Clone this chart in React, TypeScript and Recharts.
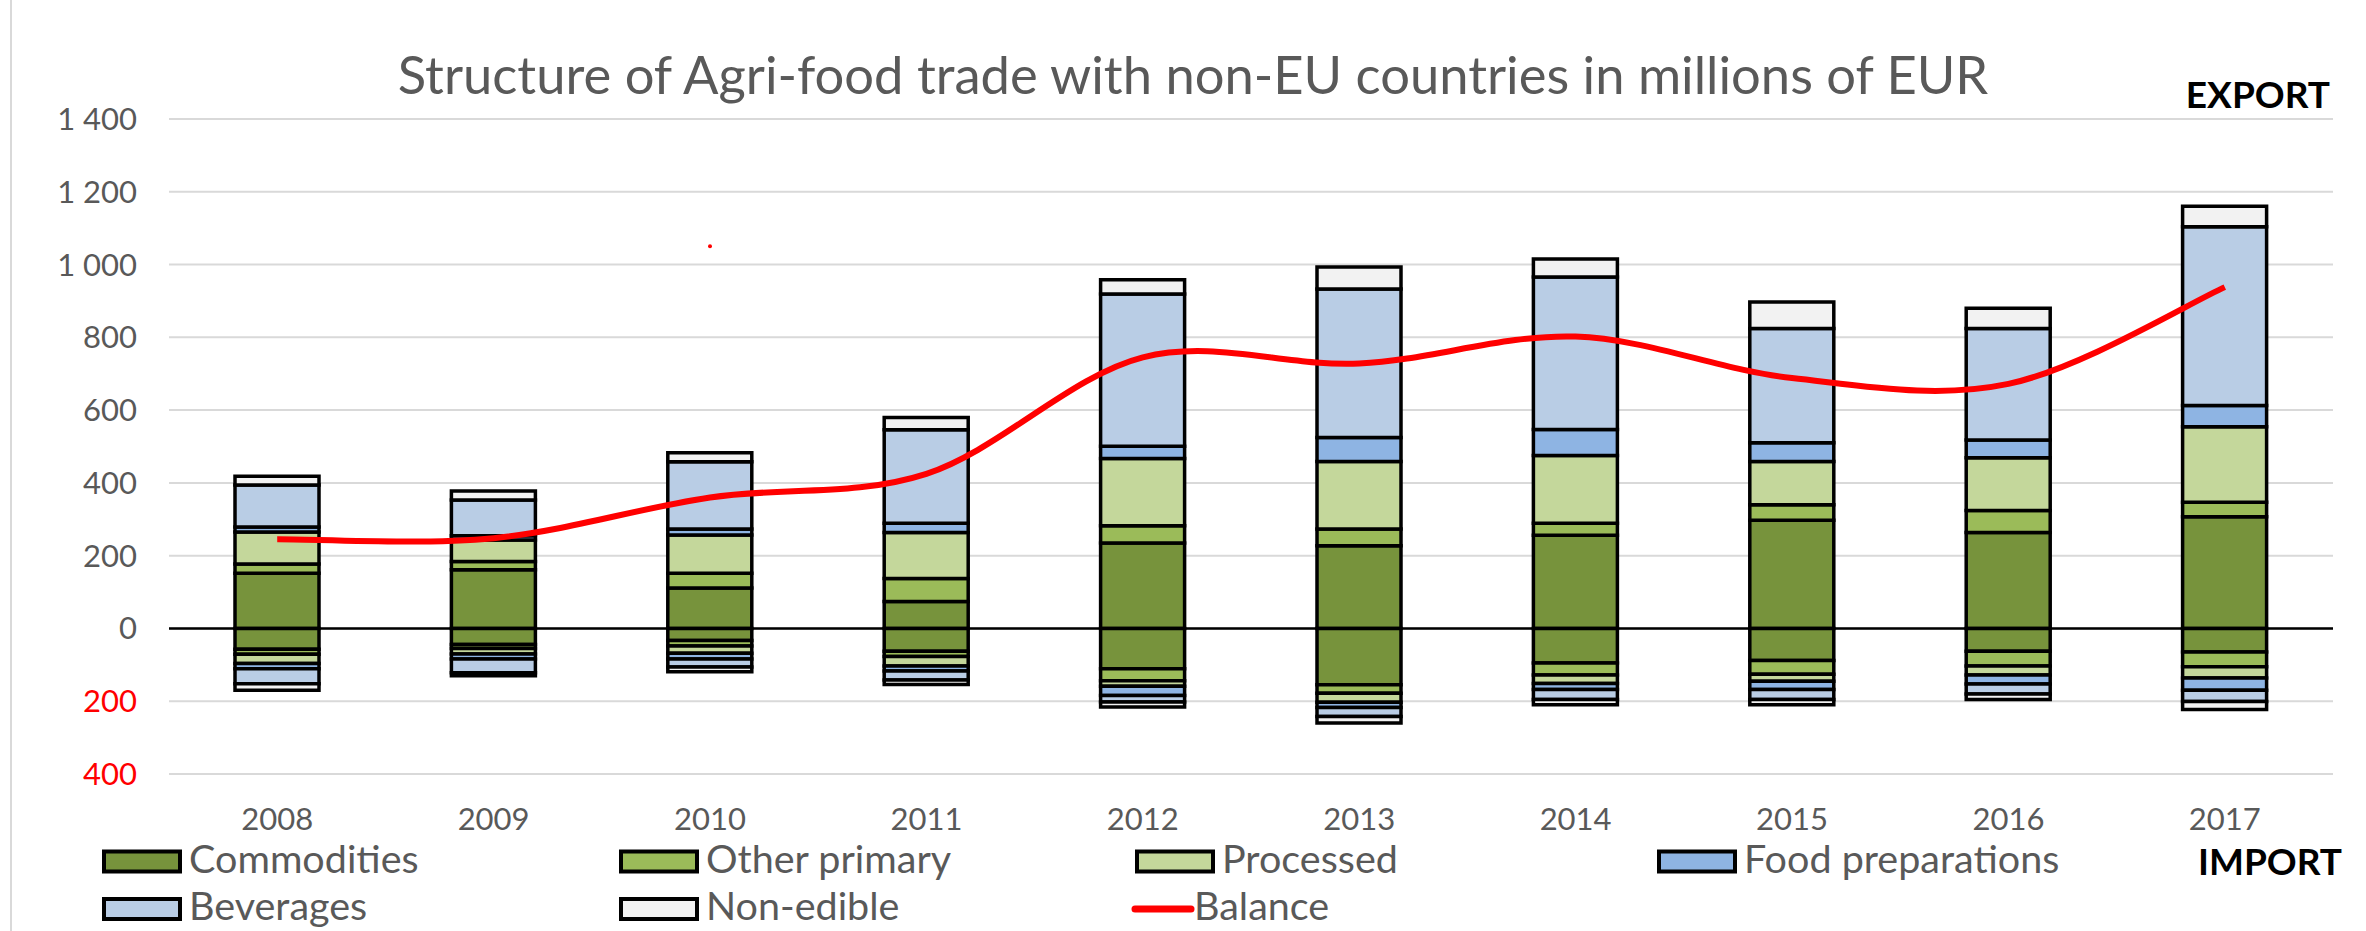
import React from 'react';
import {
  ComposedChart,
  Bar,
  Line,
  XAxis,
  YAxis,
  CartesianGrid,
  ReferenceLine,
  ReferenceDot,
  Legend,
} from 'recharts';

// ---------- data ----------
const years = ['2008', '2009', '2010', '2011', '2012', '2013', '2014', '2015', '2016', '2017'];

const seriesNames = ['Commodities', 'Other primary', 'Processed', 'Food preparations', 'Beverages', 'Non-edible'];
const seriesColors = ['#77933C', '#9BBB59', '#C4D79B', '#8EB4E3', '#B9CDE5', '#F2F2F2'];

// export (positive)
const commoditiesExp = [152, 161, 111, 74, 235, 227, 256, 297, 264, 307];
const otherPrimaryExp = [25, 23, 41, 63, 47, 46, 33, 43, 60, 40];
const processedExp = [88, 59, 105, 127, 185, 186, 186, 119, 145, 207];
const foodPrepExp = [14, 12, 16, 25, 34, 66, 72, 51, 49, 59];
const beveragesExp = [115, 98, 185, 257, 418, 408, 419, 314, 306, 491];
const nonEdibleExp = [24, 25, 25, 34, 39, 60, 49, 73, 56, 56];

// import (negative)
const commoditiesImp = [-57, -44, -33, -63, -111, -155, -95, -88, -63, -65];
const otherPrimaryImp = [-14, -11, -15, -14, -33, -23, -33, -38, -40, -40];
const processedImp = [-25, -15, -20, -26, -15, -25, -23, -19, -25, -31];
const foodPrepImp = [-15, -14, -16, -14, -25, -14, -17, -23, -25, -34];
const beveragesImp = [-41, -38, -22, -25, -18, -25, -27, -27, -27, -31];
const nonEdibleImp = [-18, -8, -13, -12, -14, -18, -15, -15, -15, -22];

const balance = [245, 248, 360, 425, 745, 728, 802, 688, 672, 938];

const yTicks = [-400, -200, 0, 200, 400, 600, 800, 1000, 1200, 1400];

const strayMark = { year: '2010', value: 1050 };

const expSeries = [commoditiesExp, otherPrimaryExp, processedExp, foodPrepExp, beveragesExp, nonEdibleExp];
const impSeries = [commoditiesImp, otherPrimaryImp, processedImp, foodPrepImp, beveragesImp, nonEdibleImp];

const data = years.map((year, i) => {
  const row: Record<string, any> = { year, balance: balance[i] };
  expSeries.forEach((s, k) => (row[`e${k}`] = s[i]));
  impSeries.forEach((s, k) => (row[`i${k}`] = s[i]));
  return row;
});

// ---------- styling ----------
const FONT = 'Lato, "Open Sans", sans-serif';
const GREY = '#595959';
const W = 2366;
const H = 931;

const fmt = (v: number) => String(Math.abs(v)).replace(/\B(?=(\d{3})+(?!\d))/g, ' ');

// Excel-like smoothed line (Catmull-Rom via cubic Bezier)
function excelCurve(context: any) {
  let pts: number[][] = [];
  return {
    areaStart() {},
    areaEnd() {},
    lineStart() {
      pts = [];
    },
    point(x: number, y: number) {
      pts.push([+x, +y]);
    },
    lineEnd() {
      if (!pts.length) return;
      context.moveTo(pts[0][0], pts[0][1]);
      for (let i = 0; i < pts.length - 1; i++) {
        const p0 = pts[i - 1] || pts[i];
        const p1 = pts[i];
        const p2 = pts[i + 1];
        const p3 = pts[i + 2] || p2;
        context.bezierCurveTo(
          p1[0] + (p2[0] - p0[0]) / 6,
          p1[1] + (p2[1] - p0[1]) / 6,
          p2[0] - (p3[0] - p1[0]) / 6,
          p2[1] - (p3[1] - p1[1]) / 6,
          p2[0],
          p2[1]
        );
      }
    },
  };
}

const YTick = (props: any) => {
  const { x, y, payload } = props;
  const v = payload.value as number;
  return (
    <text x={x - 32} y={y} dy={11} textAnchor="end" fill={v < 0 ? '#FF0000' : GREY} fontFamily={FONT} fontSize={31}>
      {fmt(v)}
    </text>
  );
};

const XTick = (props: any) => {
  const { x, y, payload } = props;
  return (
    <text x={x} y={y} dy={56} textAnchor="middle" fill={GREY} fontFamily={FONT} fontSize={31}>
      {payload.value}
    </text>
  );
};

const legendCols = [102, 619, 1135, 1657];
const legendRowsY = [861.5, 909];

const renderLegend = () => {
  const items: { name: string; color: string; kind: 'box' | 'line' }[] = [
    ...seriesNames.map((n, k) => ({ name: n, color: seriesColors[k], kind: 'box' as const })),
    { name: 'Balance', color: '#FF0000', kind: 'line' as const },
  ];
  return (
    <svg width={W} height={H} style={{ position: 'absolute', left: 0, top: 0, pointerEvents: 'none' }}>
      {items.map((it, idx) => {
        const col = idx % 4;
        const row = Math.floor(idx / 4);
        const x = legendCols[col];
        const cy = legendRowsY[row];
        return (
          <g key={it.name}>
            {it.kind === 'box' ? (
              <rect x={x + 2} y={cy - 10} width={76} height={20} fill={it.color} stroke="#000" strokeWidth={4} />
            ) : (
              <line x1={x} y1={cy} x2={x + 56} y2={cy} stroke={it.color} strokeWidth={7} strokeLinecap="round" />
            )}
            <text
              x={it.kind === 'box' ? x + 87 : x + 59}
              y={cy + 11}
              fill={GREY}
              fontFamily={FONT}
              fontSize={39.5}
            >
              {it.name}
            </text>
          </g>
        );
      })}
    </svg>
  );
};

export default function App() {
  return (
    <div style={{ position: 'absolute', left: 0, top: 0, width: W, height: H, background: '#fff' }}>
      <div style={{ position: 'absolute', left: 10, top: 0, width: 2, height: H, background: '#D9D9D9' }} />
      <ComposedChart
        width={W}
        height={H}
        data={data}
        stackOffset="sign"
        margin={{ top: 119, right: 33, bottom: 117, left: 0 }}
        barSize={84}
      >
        <CartesianGrid vertical={false} stroke="#D9D9D9" strokeWidth={2} />
        <XAxis
          dataKey="year"
          height={40}
          axisLine={false}
          tickLine={false}
          tickSize={0}
          tickMargin={0}
          tick={<XTick />}
          interval={0}
        />
        <YAxis
          width={169}
          domain={[-400, 1400]}
          ticks={yTicks}
          interval={0}
          axisLine={false}
          tickLine={false}
          tickSize={0}
          tickMargin={0}
          tick={<YTick />}
        />
        {expSeries.map((_, k) => (
          <Bar
            key={`e${k}`}
            dataKey={`e${k}`}
            name={seriesNames[k]}
            stackId="s"
            fill={seriesColors[k]}
            stroke="#000"
            strokeWidth={3.5}
            isAnimationActive={false}
          />
        ))}
        {impSeries.map((_, k) => (
          <Bar
            key={`i${k}`}
            dataKey={`i${k}`}
            name={seriesNames[k]}
            stackId="s"
            fill={seriesColors[k]}
            stroke="#000"
            strokeWidth={3.5}
            isAnimationActive={false}
          />
        ))}
        <ReferenceLine y={0} stroke="#000" strokeWidth={2.5} />
        <Line
          dataKey="balance"
          name="Balance"
          type={excelCurve as any}
          stroke="#FF0000"
          strokeWidth={6}
          dot={false}
          activeDot={false}
          isAnimationActive={false}
        />
        <ReferenceDot x={strayMark.year} y={strayMark.value} r={2} fill="#FF0000" stroke="none" />
        <Legend
          layout="vertical"
          align="center"
          verticalAlign="middle"
          content={renderLegend}
          wrapperStyle={{ left: 0, top: 0, width: W, height: H, pointerEvents: 'none' }}
        />
      </ComposedChart>
      <svg width={W} height={H} style={{ position: 'absolute', left: 0, top: 0, pointerEvents: 'none' }}>
        <text x={1193} y={94} textAnchor="middle" fill={GREY} fontFamily={FONT} fontSize={52.5}>
          Structure of Agri-food trade with non-EU countries in millions of EUR
        </text>
        <text x={2330} y={108} textAnchor="end" fill="#000" fontFamily={FONT} fontSize={37} fontWeight="bold">
          EXPORT
        </text>
        <text x={2342} y={875} textAnchor="end" fill="#000" fontFamily={FONT} fontSize={37} fontWeight="bold">
          IMPORT
        </text>
      </svg>
    </div>
  );
}
